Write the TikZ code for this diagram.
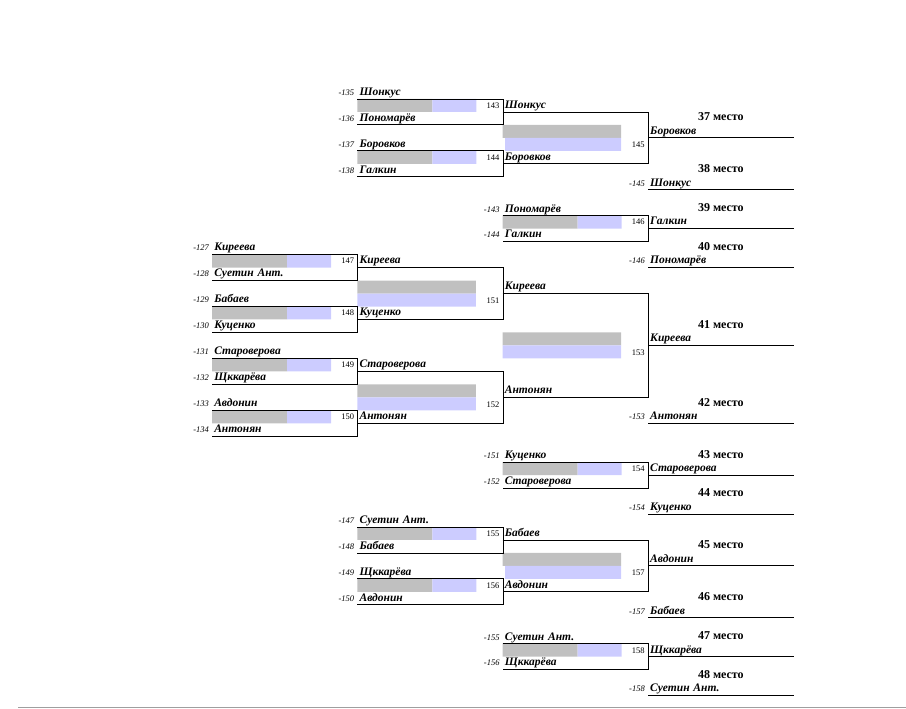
\documentclass[tikz,border=0pt]{standalone}
\usepackage{fontspec}
\setmainfont{Liberation Serif}
\usetikzlibrary{positioning,% seeds and place titles beside their names
calc}%                       box numbers at the middle of a box
\definecolor{barsilver}{RGB}{192,192,192}
\definecolor{barlavender}{RGB}{204,204,255}
\tikzset{every node/.style={inner ysep=1.5pt,text height=8pt,text depth=2pt},
  entrant/.style={anchor=south west,text width=141.3pt,inner xsep=2pt,align=left,
    font=\fontsize{11.5}{12}\selectfont\bfseries\itshape},
  seednum/.style={inner xsep=3pt,font=\fontsize{8.5}{9}\selectfont\itshape},
  matchno/.style={inner xsep=3.5pt,font=\fontsize{8.5}{9}\selectfont},
  place/.style={inner xsep=0pt,font=\fontsize{12}{12}\selectfont\bfseries}}

\begin{document}
\begin{tikzpicture}[x=1pt,y=-12.97pt]
\useasboundingbox (0,-7.633) rectangle (906,46.955);
% bars of the boxes
\fill[barsilver] (212.1,12) rectangle ++(75,1) (212.1,16) rectangle ++(75,1)
      (212.1,20) rectangle ++(75,1) (212.1,24) rectangle ++(75,1)
      (357.4,0) rectangle ++(75,1) (357.4,4) rectangle ++(75,1)
      (357.4,33) rectangle ++(75,1) (357.4,37) rectangle ++(75,1)
      (502.7,9) rectangle ++(75,1) (502.7,28) rectangle ++(75,1)
      (502.7,42) rectangle ++(75,1)
      (357.4,14) rectangle ++(118.5,1) (357.4,22) rectangle ++(118.5,1)
      (502.7,2) rectangle ++(118.5,1) (502.7,35) rectangle ++(118.5,1)
      (502.7,18) rectangle ++(118.5,1);
\fill[barlavender] (287.1,12) rectangle ++(44,1) (287.1,16) rectangle ++(44,1)
      (287.1,20) rectangle ++(44,1) (287.1,24) rectangle ++(44,1)
      (432.4,0) rectangle ++(44,1) (432.4,4) rectangle ++(44,1)
      (432.4,33) rectangle ++(44,1) (432.4,37) rectangle ++(44,1)
      (577.7,9) rectangle ++(44,1) (577.7,28) rectangle ++(44,1)
      (577.7,42) rectangle ++(44,1)
      (357.4,15) rectangle ++(118.5,1) (357.4,23) rectangle ++(118.5,1)
      (505.2,3) rectangle ++(116,1) (505.2,36) rectangle ++(116,1)
      (502.7,19) rectangle ++(118.5,1);
% first column
\node[entrant] (aKireeva) at (212.1,12) {Киреева};
\node[entrant] (aSuetin) at (212.1,14) {Суетин Ант.};
\node[entrant] (aBabaev) at (212.1,16) {Бабаев};
\node[entrant] (aKucenko) at (212.1,18) {Куценко};
\node[entrant] (aStaroverova) at (212.1,20) {Староверова};
\node[entrant] (aShchkareva) at (212.1,22) {Щккарёва};
\node[entrant] (aAvdonin) at (212.1,24) {Авдонин};
\node[entrant] (aAntonyan) at (212.1,26) {Антонян};
% second column
\node[entrant] (bShonkus) at (357.4,0) {Шонкус};
\node[entrant] (bPonomarev) at (357.4,2) {Пономарёв};
\node[entrant] (bBorovkov) at (357.4,4) {Боровков};
\node[entrant] (bGalkin) at (357.4,6) {Галкин};
\node[entrant] (bKireeva) at (357.4,13) {Киреева};
\node[entrant] (bKucenko) at (357.4,17) {Куценко};
\node[entrant] (bStaroverova) at (357.4,21) {Староверова};
\node[entrant] (bAntonyan) at (357.4,25) {Антонян};
\node[entrant] (bSuetin) at (357.4,33) {Суетин Ант.};
\node[entrant] (bBabaev) at (357.4,35) {Бабаев};
\node[entrant] (bShchkareva) at (357.4,37) {Щккарёва};
\node[entrant] (bAvdonin) at (357.4,39) {Авдонин};
% third column
\node[entrant] (cShonkus) at (502.7,1) {Шонкус};
\node[entrant] (cBorovkov) at (502.7,5) {Боровков};
\node[entrant] (cPonomarev) at (502.7,9) {Пономарёв};
\node[entrant] (cGalkin) at (502.7,11) {Галкин};
\node[entrant] (cKireeva) at (502.7,15) {Киреева};
\node[entrant] (cAntonyan) at (502.7,23) {Антонян};
\node[entrant] (cKucenko) at (502.7,28) {Куценко};
\node[entrant] (cStaroverova) at (502.7,30) {Староверова};
\node[entrant] (cBabaev) at (502.7,34) {Бабаев};
\node[entrant] (cAvdonin) at (502.7,38) {Авдонин};
\node[entrant] (cSuetin) at (502.7,42) {Суетин Ант.};
\node[entrant] (cShchkareva) at (502.7,44) {Щккарёва};
% places
\node[entrant] (d37) at (648,3) {Боровков};
\node[entrant] (d38) at (648,7) {Шонкус};
\node[entrant] (d39) at (648,10) {Галкин};
\node[entrant] (d40) at (648,13) {Пономарёв};
\node[entrant] (d41) at (648,19) {Киреева};
\node[entrant] (d42) at (648,25) {Антонян};
\node[entrant] (d43) at (648,29) {Староверова};
\node[entrant] (d44) at (648,32) {Куценко};
\node[entrant] (d45) at (648,36) {Авдонин};
\node[entrant] (d46) at (648,40) {Бабаев};
\node[entrant] (d47) at (648,43) {Щккарёва};
\node[entrant] (d48) at (648,46) {Суетин Ант.};
\node[place,above=0pt of d37] (p37) {37 место};
\node[place,above=0pt of d38] (p38) {38 место};
\node[place,above=0pt of d39] (p39) {39 место};
\node[place,above=0pt of d40] (p40) {40 место};
\node[place,above=0pt of d41] (p41) {41 место};
\node[place,above=0pt of d42] (p42) {42 место};
\node[place,above=0pt of d43] (p43) {43 место};
\node[place,above=0pt of d44] (p44) {44 место};
\node[place,above=0pt of d45] (p45) {45 место};
\node[place,above=0pt of d46] (p46) {46 место};
\node[place,above=0pt of d47] (p47) {47 место};
\node[place,above=0pt of d48] (p48) {48 место};
% seeds
\node[seednum,left=0pt of aKireeva] (s127) {-127};
\node[seednum,left=0pt of aSuetin] (s128) {-128};
\node[seednum,left=0pt of aBabaev] (s129) {-129};
\node[seednum,left=0pt of aKucenko] (s130) {-130};
\node[seednum,left=0pt of aStaroverova] (s131) {-131};
\node[seednum,left=0pt of aShchkareva] (s132) {-132};
\node[seednum,left=0pt of aAvdonin] (s133) {-133};
\node[seednum,left=0pt of aAntonyan] (s134) {-134};
\node[seednum,left=0pt of bShonkus] (s135) {-135};
\node[seednum,left=0pt of bPonomarev] (s136) {-136};
\node[seednum,left=0pt of bBorovkov] (s137) {-137};
\node[seednum,left=0pt of bGalkin] (s138) {-138};
\node[seednum,left=0pt of bSuetin] (s147) {-147};
\node[seednum,left=0pt of bBabaev] (s148) {-148};
\node[seednum,left=0pt of bShchkareva] (s149) {-149};
\node[seednum,left=0pt of bAvdonin] (s150) {-150};
\node[seednum,left=0pt of cPonomarev] (s143) {-143};
\node[seednum,left=0pt of cGalkin] (s144) {-144};
\node[seednum,left=0pt of cKucenko] (s151) {-151};
\node[seednum,left=0pt of cStaroverova] (s152) {-152};
\node[seednum,left=0pt of cSuetin] (s155) {-155};
\node[seednum,left=0pt of cShchkareva] (s156) {-156};
\node[seednum,left=0pt of d38] (s145) {-145};
\node[seednum,left=0pt of d40] (s146) {-146};
\node[seednum,left=0pt of d42] (s153) {-153};
\node[seednum,left=0pt of d44] (s154) {-154};
\node[seednum,left=0pt of d46] (s157) {-157};
\node[seednum,left=0pt of d48] (s158) {-158};
% box numbers
\node[matchno,anchor=south east] (m143) at ($(bShonkus.south east)!.5!(bPonomarev.south east)$) {143};
\node[matchno,anchor=south east] (m144) at ($(bBorovkov.south east)!.5!(bGalkin.south east)$) {144};
\node[matchno,anchor=south east] (m147) at ($(aKireeva.south east)!.5!(aSuetin.south east)$) {147};
\node[matchno,anchor=south east] (m148) at ($(aBabaev.south east)!.5!(aKucenko.south east)$) {148};
\node[matchno,anchor=south east] (m149) at ($(aStaroverova.south east)!.5!(aShchkareva.south east)$) {149};
\node[matchno,anchor=south east] (m150) at ($(aAvdonin.south east)!.5!(aAntonyan.south east)$) {150};
\node[matchno,anchor=south east] (m155) at ($(bSuetin.south east)!.5!(bBabaev.south east)$) {155};
\node[matchno,anchor=south east] (m156) at ($(bShchkareva.south east)!.5!(bAvdonin.south east)$) {156};
\node[matchno,anchor=south east] (m146) at ($(cPonomarev.south east)!.5!(cGalkin.south east)$) {146};
\node[matchno,anchor=south east] (m154) at ($(cKucenko.south east)!.5!(cStaroverova.south east)$) {154};
\node[matchno,anchor=south east] (m158) at ($(cSuetin.south east)!.5!(cShchkareva.south east)$) {158};
\node[matchno,anchor=north east] (m145) at ($(cShonkus.south east)!.5!(cBorovkov.south east)$) {145};
\node[matchno,anchor=north east] (m151) at ($(bKireeva.south east)!.5!(bKucenko.south east)$) {151};
\node[matchno,anchor=north east] (m152) at ($(bStaroverova.south east)!.5!(bAntonyan.south east)$) {152};
\node[matchno,anchor=north east] (m157) at ($(cBabaev.south east)!.5!(cAvdonin.south east)$) {157};
\node[matchno,anchor=north east] (m153) at ($(cKireeva.south east)!.5!(cAntonyan.south east)$) {153};
% boxes and lines
\begin{scope}[line width=0.9pt]
\draw (aKireeva.south west) -- (aKireeva.south east) |- (aSuetin.south west);
\draw (aBabaev.south west) -- (aBabaev.south east) |- (aKucenko.south west);
\draw (aStaroverova.south west) -- (aStaroverova.south east) |- (aShchkareva.south west);
\draw (aAvdonin.south west) -- (aAvdonin.south east) |- (aAntonyan.south west);
\draw (bShonkus.south west) -- (bShonkus.south east) |- (bPonomarev.south west);
\draw (bBorovkov.south west) -- (bBorovkov.south east) |- (bGalkin.south west);
\draw (bKireeva.south west) -- (bKireeva.south east) |- (bKucenko.south west);
\draw (bStaroverova.south west) -- (bStaroverova.south east) |- (bAntonyan.south west);
\draw (bSuetin.south west) -- (bSuetin.south east) |- (bBabaev.south west);
\draw (bShchkareva.south west) -- (bShchkareva.south east) |- (bAvdonin.south west);
\draw (cShonkus.south west) -- (cShonkus.south east) |- (cBorovkov.south west);
\draw (cPonomarev.south west) -- (cPonomarev.south east) |- (cGalkin.south west);
\draw (cKireeva.south west) -- (cKireeva.south east) |- (cAntonyan.south west);
\draw (cKucenko.south west) -- (cKucenko.south east) |- (cStaroverova.south west);
\draw (cBabaev.south west) -- (cBabaev.south east) |- (cAvdonin.south west);
\draw (cSuetin.south west) -- (cSuetin.south east) |- (cShchkareva.south west);
\draw (d37.south west) -- (d37.south east) (d38.south west) -- (d38.south east)
      (d39.south west) -- (d39.south east) (d40.south west) -- (d40.south east)
      (d41.south west) -- (d41.south east) (d42.south west) -- (d42.south east)
      (d43.south west) -- (d43.south east) (d44.south west) -- (d44.south east)
      (d45.south west) -- (d45.south east) (d46.south west) -- (d46.south east)
      (d47.south west) -- (d47.south east) (d48.south west) -- (d48.south east);
\end{scope}
\draw[gray!75,line width=1pt] (18,46.9) -- (906,46.9);
\end{tikzpicture}
\end{document}
